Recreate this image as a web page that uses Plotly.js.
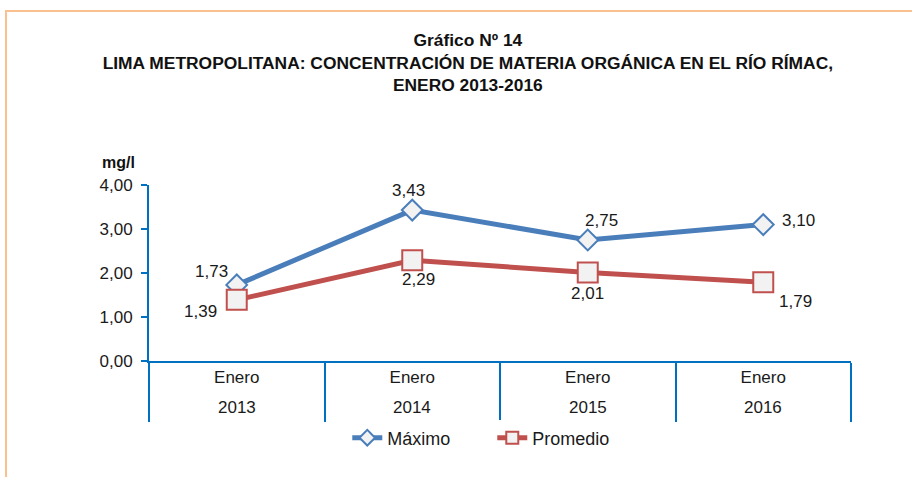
<!DOCTYPE html>
<html>
<head>
<meta charset="utf-8">
<script src="https://cdn.plot.ly/plotly-3.0.1.min.js"></script>
<style>
  html, body { margin: 0; padding: 0; background: #fff; }
  #wrap { position: relative; width: 912px; height: 477px; }
  #frame { position: absolute; left: 5px; top: 10px; width: 907px; height: 467px;
           border-top: 2px solid #FAC090; border-left: 2px solid #FAC090; box-sizing: border-box; pointer-events: none; z-index: 5; }
  #chart { position: absolute; left: 0; top: 0; width: 912px; height: 477px; }
</style>
</head>
<body>
<div id="wrap">
  <div id="chart"></div>
  <div id="frame"></div>
</div>
<script>
const categories = ["Enero 2013", "Enero 2014", "Enero 2015", "Enero 2016"];
const months = ["Enero", "Enero", "Enero", "Enero"];
const years = ["2013", "2014", "2015", "2016"];
const maximo = [1.73, 3.43, 2.75, 3.10];
const promedio = [1.39, 2.29, 2.01, 1.79];
const yTicks = [0, 1, 2, 3, 4];

// label offsets (px) relative to each point
const maxOffsets = [[-25, -13], [-4, -20], [14, -20], [35, -4]];
const promOffsets = [[-36, 12], [6, 19], [0, 21], [32, 19]];

const FONT = "'Liberation Sans', Arial, sans-serif";
const fmt = v => v.toFixed(2).replace('.', ',');

const traces = [
  {
    x: categories, y: maximo, name: 'Máximo', type: 'scatter', mode: 'lines+markers',
    line: { color: '#4A7EBB', width: 5 },
    marker: { symbol: 'diamond', size: 16, color: '#F2F2F2', line: { color: '#4A7EBB', width: 2 } },
    cliponaxis: false, hoverinfo: 'skip'
  },
  {
    x: categories, y: promedio, name: 'Promedio', type: 'scatter', mode: 'lines+markers',
    line: { color: '#C0504D', width: 5 },
    marker: { symbol: 'square', size: 20, color: '#F2F2F2', line: { color: '#C0504D', width: 2 } },
    cliponaxis: false, hoverinfo: 'skip'
  }
];

const labelFont = { family: FONT, size: 17, color: '#1a1a1a' };
const annotations = [];
maximo.forEach((v, i) => annotations.push({
  x: categories[i], y: v, xref: 'x', yref: 'y', text: fmt(v), showarrow: false,
  xshift: maxOffsets[i][0], yshift: -maxOffsets[i][1], font: labelFont
}));
promedio.forEach((v, i) => annotations.push({
  x: categories[i], y: v, xref: 'x', yref: 'y', text: fmt(v), showarrow: false,
  xshift: promOffsets[i][0], yshift: -promOffsets[i][1], font: labelFont
}));
years.forEach((yr, i) => annotations.push({
  x: categories[i], y: 0, xref: 'x', yref: 'paper', text: yr, showarrow: false,
  yanchor: 'middle', yshift: -46, font: labelFont
}));
annotations.push({ text: '<b>mg/l</b>', xref: 'paper', yref: 'paper', x: -0.07, y: 1, yshift: 23,
  xanchor: 'left', yanchor: 'middle', showarrow: false,
  font: { family: FONT, size: 16, color: '#111' } });

const layout = {
  width: 912, height: 477,
  margin: { l: 149, r: 61, t: 185, b: 116 },
  paper_bgcolor: '#fff', plot_bgcolor: '#fff',
  separators: ',.',
  font: { family: FONT, size: 16, color: '#1a1a1a' },
  title: {
    text: '<b>Gráfico Nº 14</b><br><b>LIMA METROPOLITANA: CONCENTRACIÓN DE MATERIA ORGÁNICA EN EL RÍO RÍMAC,</b><br><b>ENERO 2013-2016</b>',
    font: { family: FONT, size: 17.4, color: '#111' },
    x: 0.513, xanchor: 'center', xref: 'container',
    y: 1 - 46 / 477, yanchor: 'top', yref: 'container'
  },
  xaxis: {
    type: 'category', range: [-0.5, 3.5],
    tickvals: categories, ticktext: months,
    showline: true, linecolor: '#0070C0', linewidth: 2,
    ticks: 'outside', tickson: 'boundaries', ticklen: 59, tickcolor: '#0070C0', tickwidth: 2,
    showgrid: false, zeroline: false,
    tickfont: { family: FONT, size: 17, color: '#1a1a1a' }
  },
  yaxis: {
    range: [0, 4], tickvals: yTicks, tickformat: '.2f',
    showline: true, linecolor: '#0070C0', linewidth: 2,
    ticks: 'outside', ticklen: 6, tickcolor: '#0070C0', tickwidth: 2,
    ticklabelstandoff: 5,
    showgrid: false, zeroline: false,
    tickfont: { family: FONT, size: 17, color: '#1a1a1a' }
  },
  showlegend: true,
  legend: {
    orientation: 'h', x: 0.489, xanchor: 'center', xref: 'paper',
    y: 1 - 438 / 477, yanchor: 'middle', yref: 'container',
    font: { family: FONT, size: 18, color: '#1a1a1a' },
    itemsizing: 'constant', entrywidth: 100
  },
  annotations: annotations
};

Plotly.newPlot('chart', traces, layout, { staticPlot: true, displayModeBar: false });
</script>
</body>
</html>
